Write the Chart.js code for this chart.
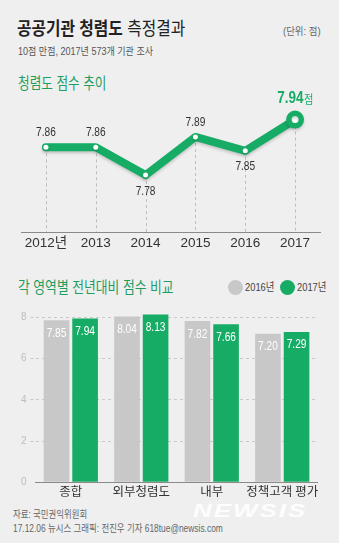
<!DOCTYPE html>
<html><head><meta charset="utf-8">
<script src="https://cdn.jsdelivr.net/npm/chart.js@4/dist/chart.umd.min.js"></script>
<style>
html,body{margin:0;padding:0;background:#efefef;}
body{width:339px;height:543px;position:relative;overflow:hidden;font-family:'Liberation Sans','Noto Sans CJK KR',sans-serif;}
.t{position:absolute;white-space:nowrap;line-height:1;transform-origin:0 50%;}
.box{position:absolute;left:0;width:339px;}
.dot{position:absolute;width:15px;height:15px;border-radius:50%;}
</style></head>
<body>
<div class="t" style="left:17px;top:20px;font-size:18px;color:#222;transform:scaleX(0.875);"><b>공공기관 청렴도</b> 측정결과</div>
<div class="t" style="left:283px;top:26px;font-size:10.5px;color:#666;transform:scaleX(0.9);">(단위: 점)</div>
<div class="t" style="left:18px;top:46px;font-size:10.5px;color:#555;transform:scaleX(0.86);">10점 만점, 2017년 573개 기관 조사</div>
<div class="t" style="left:18px;top:75.5px;font-size:16px;color:#1e9d5e;transform:scaleX(0.79);">청렴도 점수 추이</div>
<div class="t" style="left:18px;top:279.5px;font-size:16px;color:#1e9d5e;transform:scaleX(0.8);">각 영역별 전년대비 점수 비교</div>
<div class="dot" style="left:227.5px;top:279.5px;background:#c8c8c8;"></div>
<div class="t" style="left:245px;top:282px;font-size:11px;color:#444;transform:scaleX(0.85);">2016년</div>
<div class="dot" style="left:280px;top:279.5px;background:#17ac66;"></div>
<div class="t" style="left:297px;top:282px;font-size:11px;color:#444;transform:scaleX(0.85);">2017년</div>
<div class="t" style="left:193px;top:501px;font-size:19px;font-weight:bold;font-style:italic;color:rgba(255,255,255,0.92);letter-spacing:1.5px;transform:scaleX(1.36);">NEWSIS</div>
<div class="t" style="left:13px;top:510px;font-size:10px;color:#666;transform:scaleX(0.84);">자료: 국민권익위원회</div>
<div class="t" style="left:13px;top:523.5px;font-size:10px;color:#666;transform:scaleX(0.84);">17.12.06 뉴시스 그래픽: 전진우 기자 618tue@newsis.com</div>

<div class="box" style="top:85px;height:170px;"><canvas id="line" width="339" height="170"></canvas></div>
<div class="box" style="top:295px;height:210px;"><canvas id="bar" width="339" height="210"></canvas></div>

<script>
// ---- data ----
const years = ['2012년', '2013', '2014', '2015', '2016', '2017'];
const scores = [7.86, 7.86, 7.78, 7.89, 7.85, 7.94];
const areas = ['종합', '외부청렴도', '내부', '정책고객 평가'];
const score2016 = [7.85, 8.04, 7.82, 7.20];
const score2017 = [7.94, 8.13, 7.66, 7.29];
const barTicks = [0, 2, 4, 6, 8];
const unitLabel = '점';

// ---- styles ----
const GREEN = '#17ac66';
const GRAY = '#c8c8c8';
const SANS = "'Liberation Sans','Noto Sans CJK KR',sans-serif";
const KR = "'Noto Sans CJK KR',sans-serif";
const last = scores.length - 1;

function fillCondensed(ctx, text, x, y, sx, align) {
  ctx.save();
  ctx.translate(x, y);
  ctx.scale(sx, 1);
  ctx.textAlign = align || 'center';
  ctx.fillText(text, 0, 0);
  ctx.restore();
}

const linePlugin = {
  id: 'lineExtras',
  beforeDatasetsDraw(chart) {
    const ctx = chart.ctx, meta = chart.getDatasetMeta(0), bottom = chart.chartArea.bottom;
    ctx.save();
    ctx.strokeStyle = '#bdbdbd';
    ctx.lineWidth = 1;
    ctx.setLineDash([3, 3]);
    meta.data.forEach(p => {
      const x = Math.round(p.x) + 0.5;
      ctx.beginPath(); ctx.moveTo(x, p.y); ctx.lineTo(x, bottom); ctx.stroke();
    });
    ctx.restore();
    ctx.save();
    ctx.shadowColor = 'rgba(0,0,0,0.18)';
    ctx.shadowBlur = 3;
    ctx.shadowOffsetY = 2;
  },
  afterDatasetsDraw(chart) {
    const ctx = chart.ctx, meta = chart.getDatasetMeta(0);
    ctx.restore();
    ctx.save();
    ctx.textBaseline = 'middle';
    meta.data.forEach((p, i) => {
      const v = scores[i];
      if (i === last) {
        const num = v.toFixed(2);
        const s1 = 0.82, s2 = 0.85;
        ctx.font = "bold 16.5px " + SANS;
        const w1 = ctx.measureText(num).width * s1;
        ctx.font = "12px " + KR;
        const w2 = ctx.measureText(unitLabel).width * s2;
        const x0 = p.x - (w1 + w2) / 2;
        ctx.fillStyle = GREEN;
        ctx.font = "bold 16.5px " + SANS;
        fillCondensed(ctx, num, x0, p.y - 21, s1, 'left');
        ctx.font = "12px " + KR;
        fillCondensed(ctx, unitLabel, x0 + w1 + 0.5, p.y - 20, s2, 'left');
      } else {
        const below = i > 0 && v < scores[i - 1];
        ctx.font = "13px " + SANS;
        ctx.fillStyle = '#333';
        fillCondensed(ctx, v.toFixed(2), p.x, below ? p.y + 16 : p.y - 15, 0.78, 'center');
      }
    });
    ctx.restore();
  }
};

new Chart(document.getElementById('line'), {
  type: 'line',
  data: {
    labels: years,
    datasets: [{
      data: scores,
      borderColor: GREEN,
      borderWidth: 8,
      borderCapStyle: 'round',
      borderJoinStyle: 'round',
      tension: 0,
      pointRadius: c => c.dataIndex === last ? 6.25 : 2.5,
      pointBackgroundColor: '#ffffff',
      pointBorderColor: GREEN,
      pointBorderWidth: c => c.dataIndex === last ? 5.5 : 0
    }]
  },
  options: {
    responsive: false, animation: false, events: [],
    layout: { padding: { left: 21, right: 19, top: 20, bottom: 0.8 } },
    plugins: { legend: { display: false }, tooltip: { enabled: false } },
    scales: {
      x: {
        offset: true,
        grid: { display: false, drawTicks: false },
        border: { display: true, color: '#8a8a8a', width: 1 },
        ticks: { color: '#333', padding: 3, maxRotation: 0, minRotation: 0, autoSkip: false, font: { family: SANS, size: 13.5 } }
      },
      y: { display: false, min: 7.616, max: 7.982 }
    }
  },
  plugins: [linePlugin]
});

const barLabelPlugin = {
  id: 'barLabels',
  afterDatasetsDraw(chart) {
    const ctx = chart.ctx;
    ctx.save();
    ctx.fillStyle = '#ffffff';
    ctx.textBaseline = 'middle';
    ctx.font = "13px " + SANS;
    chart.data.datasets.forEach((ds, di) => {
      chart.getDatasetMeta(di).data.forEach((b, i) => {
        fillCondensed(ctx, ds.data[i].toFixed(2), b.x, b.y + 13, 0.78, 'center');
      });
    });
    ctx.restore();
  }
};

new Chart(document.getElementById('bar'), {
  type: 'bar',
  data: {
    labels: areas,
    datasets: [
      { label: '2016년', data: score2016, backgroundColor: GRAY, categoryPercentage: 0.811, barPercentage: 0.897 },
      { label: '2017년', data: score2017, backgroundColor: GREEN, categoryPercentage: 0.811, barPercentage: 0.897 }
    ]
  },
  options: {
    responsive: false, animation: false, events: [],
    layout: { padding: { left: 17, right: 21.5, top: 14, bottom: 5.7 } },
    plugins: { legend: { display: false }, tooltip: { enabled: false } },
    scales: {
      x: {
        grid: { display: false, drawTicks: false },
        border: { display: true, color: '#8a8a8a', width: 1 },
        ticks: { color: '#333', padding: 1, maxRotation: 0, minRotation: 0, autoSkip: false, font: { family: KR, size: 12.5 } }
      },
      y: {
        min: 0, max: 8.4,
        afterBuildTicks: s => { s.ticks = barTicks.map(v => ({ value: v })); },
        grid: {
          color: c => (c.tick && c.tick.value === 0) ? 'rgba(0,0,0,0)' : '#c9c9c9',
          tickLength: 5, tickBorderDash: [3, 3]
        },
        border: { display: false, dash: [3, 3] },
        ticks: { color: '#bdbdbd', padding: 4, font: { family: SANS, size: 10 } }
      }
    }
  },
  plugins: [barLabelPlugin]
});
</script>
</body></html>
